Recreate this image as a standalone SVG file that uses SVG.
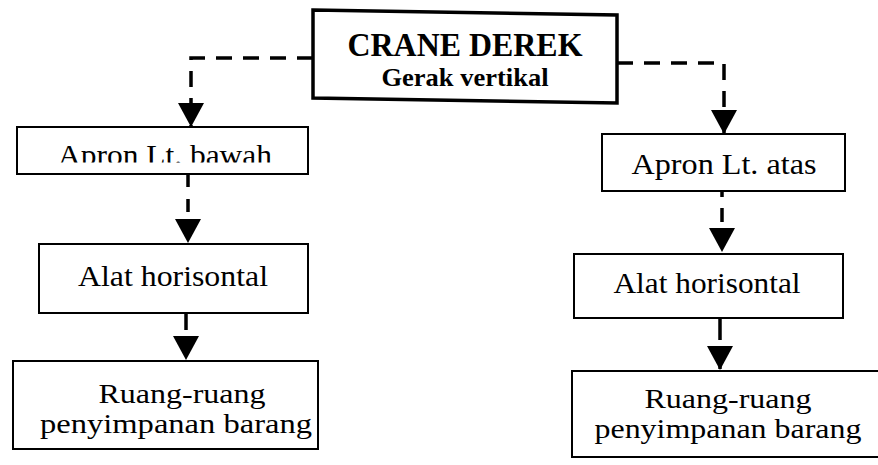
<svg xmlns="http://www.w3.org/2000/svg" width="878" height="465" viewBox="0 0 878 465">
  <style>
    .box { fill: #ffffff; stroke: #000000; stroke-width: 2; }
    .main { fill: #ffffff; stroke: #000000; stroke-width: 3.5; }
    .lbl { font-family: "Liberation Serif", "Times New Roman", serif; font-size: 30px; fill: #000000; text-anchor: middle; }
    .lbl2 { font-family: "Liberation Serif", "Times New Roman", serif; font-size: 27px; fill: #000000; text-anchor: middle; }
    .ttl { font-family: "Liberation Serif", "Times New Roman", serif; font-weight: bold; fill: #000000; text-anchor: middle; }
    .link { fill: none; stroke: #000000; stroke-width: 3.5; }
  </style>
  <defs>
    <marker id="tri" markerUnits="userSpaceOnUse" markerWidth="24" markerHeight="26" refX="24" refY="13" orient="auto">
      <path d="M0,0 L24,13 L0,26 Z" fill="#000000"/>
    </marker>
    <!-- the lower edge of this label is cut off in print -->
    <clipPath id="clipBawah">
      <rect x="17" y="127" width="291" height="35.5"/>
    </clipPath>
  </defs>
  <rect width="878" height="465" fill="#ffffff"/>

  <g id="connectors">
    <path class="link" d="M313,58 H191 V127" stroke-dasharray="16 11" marker-end="url(#tri)"/>
    <path class="link" d="M617,63 H724 V134" stroke-dasharray="16 11" marker-end="url(#tri)"/>
    <path class="link" d="M188,174 V243" stroke-dasharray="13 12" marker-end="url(#tri)"/>
    <path class="link" d="M722,183 V252" stroke-dasharray="14 11" marker-end="url(#tri)"/>
    <path class="link" d="M186,313 V360" stroke-dasharray="17 7" marker-end="url(#tri)"/>
    <path class="link" d="M720,318 V370" stroke-dasharray="22 7" marker-end="url(#tri)"/>
  </g>

  <g id="crane-derek">
    <polygon class="main" points="313,10 617,15 617,103 313,98"/>
    <text class="ttl" x="465" y="56" font-size="33" textLength="235" lengthAdjust="spacingAndGlyphs">CRANE DEREK</text>
    <text class="ttl" x="465" y="86" font-size="25" textLength="167" lengthAdjust="spacingAndGlyphs">Gerak vertikal</text>
  </g>

  <g id="apron-bawah">
    <rect class="box" x="17" y="127" width="291" height="47"/>
    <text class="lbl" x="165" y="165" textLength="214" lengthAdjust="spacingAndGlyphs" clip-path="url(#clipBawah)">Apron Lt. bawah</text>
  </g>

  <g id="apron-atas">
    <rect class="box" x="602" y="134" width="243" height="57"/>
    <text class="lbl" x="724" y="174" textLength="185" lengthAdjust="spacingAndGlyphs">Apron Lt. atas</text>
  </g>

  <g id="alat-kiri">
    <rect class="box" x="39" y="244" width="269" height="69"/>
    <text class="lbl" x="173" y="286" textLength="190" lengthAdjust="spacingAndGlyphs">Alat horisontal</text>
  </g>

  <g id="alat-kanan">
    <rect class="box" x="574" y="254" width="269" height="64"/>
    <text class="lbl" x="707" y="293" textLength="187" lengthAdjust="spacingAndGlyphs">Alat horisontal</text>
  </g>

  <g id="ruang-kiri">
    <rect class="box" x="13" y="361" width="305" height="88"/>
    <text class="lbl2" x="182" y="403" textLength="167" lengthAdjust="spacingAndGlyphs">Ruang-ruang</text>
    <text class="lbl2" x="176" y="433" textLength="272" lengthAdjust="spacingAndGlyphs">penyimpanan barang</text>
  </g>

  <g id="ruang-kanan">
    <rect class="box" x="572" y="371" width="310" height="86"/>
    <text class="lbl2" x="728" y="408" textLength="167" lengthAdjust="spacingAndGlyphs">Ruang-ruang</text>
    <text class="lbl2" x="728" y="438" textLength="267" lengthAdjust="spacingAndGlyphs">penyimpanan barang</text>
  </g>
</svg>
